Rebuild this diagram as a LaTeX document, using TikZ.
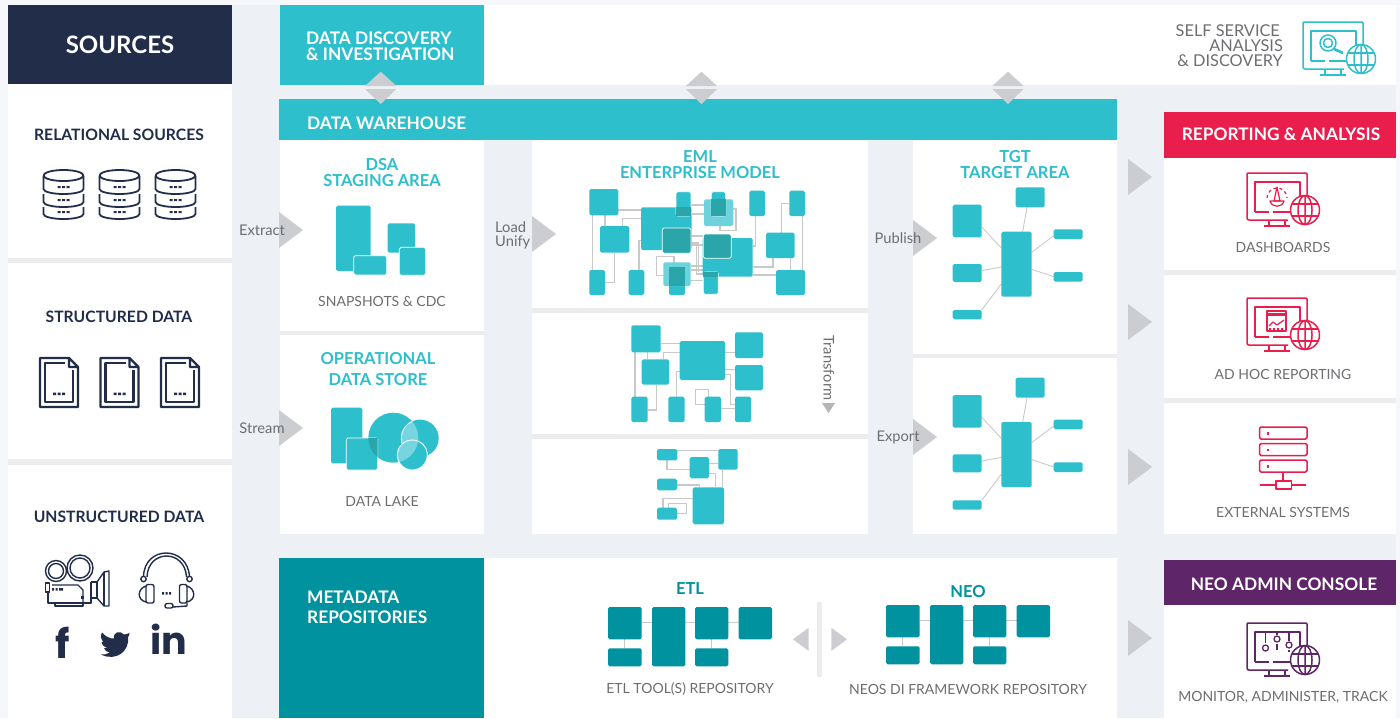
\documentclass[tikz,border=0pt]{standalone}
\usepackage{fontspec}
\setmainfont{Lato}
\newfontfamily\socialfont{Poppins}
\usetikzlibrary{positioning}
\definecolor{navy}{HTML}{222D4A}
\definecolor{aqua}{HTML}{2EBFCD}
\definecolor{aquadark}{HTML}{2AA6AB}
\definecolor{petrol}{HTML}{00929E}
\definecolor{crimson}{HTML}{E91E4D}
\definecolor{plum}{HTML}{5E2568}
\definecolor{pagebg}{HTML}{EDF0F5}
\definecolor{strip}{HTML}{F6F7FA}
\definecolor{greyarrow}{HTML}{CCCDD0}
\definecolor{greytext}{HTML}{6D6E71}
\definecolor{wirecol}{HTML}{C9C9C9}
\definecolor{gapcol}{HTML}{ECECEE}
\pgfdeclarelayer{back}
\pgfdeclarelayer{wires}
\pgfsetlayers{back,wires,main}
\tikzset{
    panel/.style={fill=white,draw=none,inner sep=0pt,outer sep=0pt,anchor=north west},
    blk/.style={fill=aqua,rounded corners=1.6pt,draw=none,inner sep=0pt,outer sep=0pt,anchor=north west},
    petblk/.style={blk,fill=petrol},
    cutblk/.style={blk,draw=white,line width=0.8pt},
    wire/.style={draw=wirecol,line width=1.1pt},
    head/.style={font=\bfseries\fontsize{15.7}{15.7}\selectfont,text=navy,inner sep=0pt,yshift=-1pt},
    title/.style={font=\bfseries\fontsize{16.5}{16.5}\selectfont,text=aqua,inner sep=0pt,yshift=-1pt},
    banner/.style={font=\bfseries\fontsize{17.3}{17.3}\selectfont,text=white,inner sep=0pt,yshift=-1pt},
    caption/.style={font=\fontsize{14}{14}\selectfont,text=greytext,inner sep=0pt,yshift=-1pt},
    steplabel/.style={font=\fontsize{14.7}{14.7}\selectfont,text=greytext,inner sep=0pt,yshift=-1pt},
    tip/.style={fill=greyarrow,draw=none},
    ico/.style={line width=1.5pt,line join=round},
}
% a monitor with a globe, from its top left corner
\newcommand{\monitoricon}[3]{
    \begin{scope}[shift={(#2,#3)},ico,draw=#1]
        \draw[rounded corners=1pt] (41,47) -- (1,47) -- (0,46) -- (0,0) -- (60,0) -- (60,30);
        \draw (8,39) -- (8,9) -- (53,9) -- (53,24);
        \draw (8,39) -- (22,39) (26,39) -- (44,39);
        \draw (22,47) -- (22,53) (38,47) -- (38,53) (17,53) -- (43,53);
        \draw[fill=white] (58,37) circle (14.5);
        \draw (58,37) ellipse (7 and 14.5) (58,22.5) -- (58,51.5);
        \draw (45,31) -- (71,31) (45,43) -- (71,43);
    \end{scope}
}
\begin{document}
\begin{tikzpicture}[x=1pt,y=-1pt]
    \useasboundingbox (0,0) rectangle (1400,718);
    \begin{pgfonlayer}{back}
    \fill[pagebg] (0,0) rectangle (1400,718);
    \fill[strip] (0,0) rectangle (8,718);
    \fill[strip] (0,0) rectangle (1400,5);
    \fill[strip] (1396,0) rectangle (1400,718);

    % left column
    \node[panel,fill=navy,minimum width=224pt,minimum height=79pt] (srchead) at (8,5) {};
    \foreach \n/\ya/\h in {srca/84/174,srcb/263/196,srcc/465/253} {
        \node[panel,minimum width=224pt,minimum height=\h pt] (\n) at (8,\ya) {};
    }
    \fill[gapcol] (8,258) rectangle (232,263);
    \fill[gapcol] (8,459) rectangle (232,465);

    % panels
    \node[panel,fill=aqua,minimum width=204pt,minimum height=80pt] (disc) at (280,5) {};
    \node[panel,minimum width=912pt,minimum height=80pt] (self) at (484,5) {};
    \node[panel,fill=aqua,minimum width=838pt,minimum height=41pt] (dwh) at (279,99) {};
    \foreach \n/\xa/\ya/\w/\h in {dsa/280/140/204/191,ods/280/335/204/199,
        emla/532/140/336/168,emlb/532/313/336/121,emlc/532/439/336/95,
        tgta/913/140/204/214,tgtb/913/358/204/176,
        repa/1164/158/232/112,repb/1164/275/232/123,repc/1164/403/232/131,
        neob/1164/605/232/113,meta/484/558/633/160} {
        \node[panel,minimum width=\w pt,minimum height=\h pt] (\n) at (\xa,\ya) {};
    }
    \fill[gapcol] (280,331) rectangle (484,335);
    \fill[gapcol] (532,308) rectangle (868,313);
    \fill[gapcol] (532,434) rectangle (868,439);
    \fill[gapcol] (913,354) rectangle (1117,358);
    \fill[gapcol] (1164,270) rectangle (1396,275);
    \fill[gapcol] (1164,398) rectangle (1396,403);
    \node[panel,fill=petrol,minimum width=205pt,minimum height=160pt] (metahead) at (279,558) {};
    \node[panel,fill=crimson,minimum width=232pt,minimum height=46pt] (rephead) at (1164,112) {};
    \node[panel,fill=plum,minimum width=232pt,minimum height=45pt] (neohead) at (1164,560) {};
    \end{pgfonlayer}

    % heads
    \node[banner,font=\bfseries\fontsize{24}{24}\selectfont] (srctxt) at (120,44) {SOURCES};
    \node[head] (relsrc) at (119,134) {RELATIONAL SOURCES};
    \node[head] (strsrc) at (119,316) {STRUCTURED DATA};
    \node[head] (unssrc) at (119,516) {UNSTRUCTURED DATA};

    % banners
    \node[banner,anchor=west] (disca) at (306,37) {DATA DISCOVERY};
    \node[banner,anchor=west] (discb) at (306,53) {\& INVESTIGATION};
    \node[banner,anchor=west] (dwhtxt) at (307,122) {DATA WAREHOUSE};
    \node[banner,anchor=west] (metaa) at (307,596) {METADATA};
    \node[banner,anchor=west] (metab) at (307,616) {REPOSITORIES};
    \node[banner] (reptxt) at (1281,133) {REPORTING \& ANALYSIS};
    \node[banner] (neotxt) at (1284,583) {NEO ADMIN CONSOLE};

    % titles
    \node[title] (dsaa) at (382,164) {DSA};
    \node[title] (dsab) at (382,180) {STAGING AREA};
    \node[title] (odsa) at (378,358) {OPERATIONAL};
    \node[title] (odsb) at (378,379) {DATA STORE};
    \node[title] (emlta) at (700,156) {EML};
    \node[title] (emltb) at (700,172) {ENTERPRISE MODEL};
    \node[title] (tgtta) at (1015,156) {TGT};
    \node[title] (tgttb) at (1015,172) {TARGET AREA};
    \node[title,text=petrol] (etlt) at (690,588) {ETL};
    \node[title,text=petrol] (neot) at (968,591) {NEO};

    % captions
    \foreach \n/\xa/\ya/\t in {capa/382/300/SNAPSHOTS \& CDC,capb/382/500/DATA LAKE,
        capc/1283/246/DASHBOARDS,capd/1283/373/AD HOC REPORTING,cape/1283/511/EXTERNAL SYSTEMS,
        capf/1283/696/{MONITOR, ADMINISTER, TRACK},capg/690/688/ETL TOOL(S) REPOSITORY,
        caph/968/688/NEOS DI FRAMEWORK REPOSITORY} {
        \node[caption] (\n) at (\xa,\ya) {\t};
    }
    \node[caption,font=\fontsize{16.3}{16.3}\selectfont,anchor=east] (sa) at (1280,30) {SELF SERVICE};
    \node[caption,font=\fontsize{16.3}{16.3}\selectfont,anchor=east] (sb) at (1283,45) {ANALYSIS};
    \node[caption,font=\fontsize{16.3}{16.3}\selectfont,anchor=east] (sc) at (1283,60) {\& DISCOVERY};

    % big grey arrows
    \foreach \xa/\ya in {279/230,279/428,532/234,913/238,913/437,1128/177,1128/322,1128/467,1128/638} {
        \fill[tip] (\xa,\ya-18) -- (\xa+24,\ya) -- (\xa,\ya+18) -- cycle;
    }
    \foreach \xa in {380.7,701.5,1008} {
        \fill[greyarrow] (\xa-15.7,86) -- (\xa,71.7) -- (\xa+15.7,86) -- cycle;
        \fill[greyarrow] (\xa-15.7,89) -- (\xa,104) -- (\xa+15.7,89) -- cycle;
    }
    \fill[tip] (793,639.3) -- (808.7,627.7) -- (808.7,651) -- cycle;
    \fill[tip] (847,639.3) -- (831.3,627.7) -- (831.3,651) -- cycle;
    \fill[gapcol] (817.3,602.3) rectangle (822,677.3);
    \fill[tip,fill=greytext!50] (822,403) -- (835,403) -- (828.5,413) -- cycle;
    \node[steplabel] (extr) at (262,229) {Extract};
    \node[steplabel] (strm) at (262,427) {Stream};
    \node[steplabel,anchor=west] (loada) at (495,226) {Load};
    \node[steplabel,anchor=west] (loadb) at (495,241) {Unify};
    \node[steplabel] (pub) at (898,237) {Publish};
    \node[steplabel] (expo) at (898,436) {Export};
    \node[steplabel,rotate=-90] (trans) at (829,367) {Transform};

    % source icons
    \foreach \xa in {63.5,119.5,175.5} {
        \begin{scope}[shift={(\xa,0)},ico,draw=navy,line width=1.8pt]
            \draw (0,175.5) ellipse (20 and 5.5);
            \draw (-20,176) -- (-20,189) arc (180:0:20 and 5) -- (20,176);
            \draw (-20,194) -- (-20,202) arc (180:0:20 and 5) -- (20,194);
            \draw (-20,207) -- (-20,214) arc (180:0:20 and 5) -- (20,207);
            \foreach \ya in {187,200,212} {
                \fill[navy] (-6,\ya-1) rectangle (-3,\ya+1) (-1.5,\ya-1) rectangle (1.5,\ya+1) (3,\ya-1) rectangle (6,\ya+1);
            }
        \end{scope}
    }
    \foreach \xa in {40,100.5,161} {
        \begin{scope}[shift={(\xa,358)},ico,draw=navy,line width=2.2pt]
            \draw (29,0) -- (0,0) -- (0,49) -- (38,49) -- (38,9) -- (29,0) -- (29,9) -- (38,9);
            \draw (25,5) -- (5,5) -- (5,44) -- (33,44) -- (33,12);
            \fill[navy] (13,34.5) rectangle (16,37) (17.5,34.5) rectangle (20.5,37) (22,34.5) rectangle (25,37);
        \end{scope}
    }
    % camera
    \begin{scope}[ico,draw=navy,line width=1.4pt]
        \draw (56,571) circle (10.5) (56,571) circle (7.5);
        \draw (80,568) circle (13) (80,568) circle (10);
        \draw (45.5,583) rectangle (49.5,592);
        \draw (48,592) -- (48,603) -- (91,603) -- (91,582);
        \draw (52,585) -- (78,585) -- (83,590) -- (83,603);
        \draw (55,603) -- (55,606) -- (83,606) -- (83,603);
        \draw (91,582) -- (97,582) -- (97,598) -- (91,598);
        \draw (97,582) -- (104,572) -- (109,571) -- (109,606) -- (104,606) -- (97,598);
        \draw[line width=2pt] (104,572) -- (104,606);
        \fill[navy] (52,588) rectangle (54,590.5) (55.5,588) rectangle (57.5,590.5) (59,588) rectangle (63,590.5);
        \fill[navy] (81,596) rectangle (84,599);
    \end{scope}
    % headset
    \begin{scope}[ico,draw=navy,line width=1.4pt]
        \draw (143.5,577) .. controls (144,545) and (188,545) .. (189.5,577);
        \draw (147,577) .. controls (148,549) and (185,549) .. (186.5,577);
        \draw[fill=white] (143.5,579) circle (2.7) (189.5,579) circle (2.7);
        \draw[rounded corners=2pt] (146,584.5) rectangle (154,603);
        \draw[rounded corners=2pt] (179.5,584.5) rectangle (187,603);
        \draw (146,586) .. controls (137,589) and (137,600) .. (146,602);
        \draw (187,586) .. controls (196,589) and (196,600) .. (187,602);
        \draw (187,603) -- (187,606) -- (173,607);
        \draw[rounded corners=2pt] (165,603.5) rectangle (173,608);
        \fill[navy] (162,592) rectangle (164,594.5) (165.5,592) rectangle (167.5,594.5) (169,592) rectangle (171,594.5);
    \end{scope}
    % social marks
    \node[inner sep=0pt,text=navy,font=\socialfont\bfseries\fontsize{40}{40}\selectfont] (fbk) at (63,643) {f};
    \node[inner sep=0pt,text=navy,font=\socialfont\bfseries\fontsize{38}{38}\selectfont] (lnk) at (168.5,639) {in};
    \fill[navy] (129.5,633) .. controls (127,634) and (125,634.5) .. (124,634.5)
        .. controls (120,630) and (113,632) .. (114,638.5)
        .. controls (110,639) and (105,636) .. (102,632.5)
        .. controls (100,636) and (101,640) .. (104,642)
        .. controls (103,642) and (102,642) .. (101.5,641.5)
        .. controls (102,645) and (104,647) .. (107,648)
        .. controls (106,648.5) and (105,648.5) .. (104,648.3)
        .. controls (105,651) and (107,652) .. (110,652.5)
        .. controls (107,654) and (104,655) .. (101,654.5)
        .. controls (116,662) and (130,651) .. (128,637)
        .. controls (129,636) and (129.5,635) .. cycle;

    % DSA icon
    \node[blk,minimum width=34.7pt,minimum height=65.3pt] (dsaone) at (336,205.7) {};
    \node[cutblk,minimum width=33pt,minimum height=19.3pt] (dsatwo) at (353.7,255.7) {};
    \node[blk,minimum width=27.3pt,minimum height=29.4pt] (dsathree) at (387.7,223.3) {};
    \node[cutblk,minimum width=26.4pt,minimum height=28pt] (dsafour) at (399.3,247.3) {};
    % ODS icon
    \node[blk,minimum width=31.3pt,minimum height=55.6pt] (odsone) at (331,407.7) {};
    \fill[aqua] (393.3,437.7) circle (25);
    \fill[aqua] (420,438.3) circle (18.7);
    \node[cutblk,minimum width=31.4pt,minimum height=32pt] (odstwo) at (346.3,438) {};
    \begin{scope}
        \clip (346.3,438) rectangle (377.7,470);
        \fill[aquadark] (393.3,437.7) circle (25);
    \end{scope}
    \begin{scope}
        \clip (393.3,437.7) circle (25);
        \fill[aqua!65!white] (420,438.3) circle (18.7);
        \draw[white,line width=0.8pt] (420,438.3) circle (18.7);
    \end{scope}
    \fill[aqua] (412.3,455) circle (15);
    \begin{scope}
        \clip (412.3,455) circle (15);
        \clip (393.3,437.7) circle (25);
        \fill[aqua!65!white] (412.3,455) circle (15);
    \end{scope}
    \draw[white,line width=0.9pt] (412.3,455) circle (15);

    % EML model
    \foreach \n/\xa/\ya/\w/\h in {ea/589.3/189/29/26.3,eb/600/226/29.3/26.7,ec/589.3/270/15.7/25,
        ed/628.7/270/15.6/25,ee/641/207.3/50.7/42.7,ei/749.3/190.7/15.7/25.3,ej/789.3/190.7/15.7/25.3,
        ek/766/232.7/28.7/25.3,el/702.7/238/50/38.7,eo/776/270/29/25,eq/669/267.3/16/27.7} {
        \node[blk,minimum width=\w pt,minimum height=\h pt] (\n) at (\xa,\ya) {};
    }
    \node[cutblk,minimum width=15pt,minimum height=24.3pt] (ef) at (676,191.7) {};
    \node[cutblk,minimum width=15pt,minimum height=22.3pt] (ep) at (703.3,272) {};
    \node[blk,fill=aqua!70!white,minimum width=29.3pt,minimum height=26.7pt] (eg) at (704,199.3) {};
    \node[blk,fill=aqua!70!white,minimum width=27.4pt,minimum height=23.7pt] (er) at (663.3,262.3) {};
    \node[cutblk,minimum width=14.4pt,minimum height=24.3pt] (eh) at (711.3,191.7) {};
    \node[cutblk,fill=aquadark,minimum width=28pt,minimum height=24.3pt] (em) at (703.3,234) {};
    \node[cutblk,fill=aquadark,minimum width=28.7pt,minimum height=25.3pt] (en) at (662.3,228) {};
    \node[blk,fill=aquadark,rounded corners=0pt,minimum width=15pt,minimum height=9.3pt] (eoa) at (676,207) {};
    \node[blk,fill=aquadark,rounded corners=0pt,minimum width=14.4pt,minimum height=17pt] (eob) at (711.3,199.3) {};
    \node[blk,fill=aquadark,rounded corners=0pt,minimum width=16pt,minimum height=18.7pt] (eoc) at (669,267.3) {};
    \node[blk,fill=aquadark,rounded corners=0pt,minimum width=15pt,minimum height=4.7pt] (eod) at (703.3,272) {};
    \begin{pgfonlayer}{wires}
        \draw[wire] (ea.east |- 0,210) -- (ee.west |- 0,210);
        \draw[wire] (605,0 |- ea.south) -- (605,0 |- eb.north);
        \draw[wire] (592.3,0 |- ea.south) -- (592.3,0 |- ec.north);
        \draw[wire] (622.7,0 |- eb.north) |- (ee.west |- 0,218.3);
        \draw[wire] (614.7,0 |- eb.south) |- (ec.east |- 0,282.3);
        \draw[wire] (639,0 |- ed.north) |- (ee.west |- 0,240.7);
        \draw[wire] (ef.east |- 0,205) -- (eh.west |- 0,205);
        \draw[wire] (ee.east |- 0,214) -- (eg.west |- 0,214);
        \draw[wire] (720,209) rectangle (736,230.7);
        \draw[wire] (755.7,0 |- ei.south) |- (el.east |- 0,246);
        \draw[wire] (781.3,0 |- ek.north) |- (ej.west |- 0,203.3);
        \draw[wire] (802.7,0 |- ej.south) -- (802.7,0 |- eo.north);
        \draw[wire] (790.3,0 |- ek.south) -- (790.3,0 |- eo.north);
        \draw[wire] (773,0 |- ek.south) |- (el.east |- 0,267);
        \draw[wire] (el.east |- 0,275) -- (eo.west |- 0,275);
        \draw[wire] (en.east |- 0,236) -- (em.west |- 0,236);
        \draw[wire] (en.east |- 0,245) -- (em.west |- 0,245);
        \draw[wire] (en.east |- 0,243) -| (698.5,0 |- ep.north);
        \draw[wire] (696.5,245) |- (ep.west |- 0,274);
        \draw[wire] (er.east |- 0,266) -- (el.west |- 0,266);
        \draw[wire] (er.east |- 0,270) -- (el.west |- 0,270);
        \draw[wire] (eq.east |- 0,280.7) -- (ep.west |- 0,280.7);
        \draw[wire] (656.7,256.7) rectangle (674,275.7);
    \end{pgfonlayer}

    % second model
    \foreach \n/\xa/\ya/\w/\h in {fa/631.3/325.3/29.4/27,fb/641.7/359.3/27.3/25.4,fc/679.7/341/45.3/39,
        fd/735/332.3/28/25.7,fe/735/365/28/25.3,ff/631.3/396.7/16.4/25.3,fg/668.3/396.7/16.4/25.3,
        fh/704.7/396.7/16.3/25.3,fi/735/396.7/16/25.3} {
        \node[blk,minimum width=\w pt,minimum height=\h pt] (\n) at (\xa,\ya) {};
    }
    \begin{pgfonlayer}{wires}
        \draw[wire] (fa.east |- 0,343.7) -- (fc.west |- 0,343.7);
        \draw[wire] (647.3,0 |- fa.south) -- (647.3,0 |- fb.north);
        \draw[wire] (635,0 |- fa.south) -- (635,0 |- ff.north);
        \draw[wire] (663.3,0 |- fb.north) |- (fc.west |- 0,352.3);
        \draw[wire] (656.7,0 |- fb.south) |- (ff.east |- 0,410);
        \draw[wire] (676.7,0 |- fg.north) |- (fc.west |- 0,371.3);
        \draw[wire] (fc.east |- 0,352.7) -- (fd.west |- 0,352.7);
        \draw[wire] (fc.east |- 0,369.3) -- (fe.west |- 0,369.3);
        \draw[wire] (fc.east |- 0,374.3) -| (730.3,404.3) -- (fi.west |- 0,404.3);
        \draw[wire] (fh.east |- 0,408.7) -- (fi.west |- 0,408.7);
        \draw[wire] (708.7,0 |- fh.north) |- (695.3,389.3) |- (fh.west |- 0,404.3);
    \end{pgfonlayer}

    % third model
    \foreach \n/\xa/\ya/\w/\h in {ga/657/449/20.3/11.3,gb/689.7/457/19.3/21.3,gc/718.3/449/19.4/20.7,
        gd/657/478.7/20/11.6,ge/657/507.7/20/12,gf/692.7/487.3/31.3/37} {
        \node[blk,minimum width=\w pt,minimum height=\h pt] (\n) at (\xa,\ya) {};
    }
    \begin{pgfonlayer}{wires}
        \draw[wire] (ga.east |- 0,450.7) -- (gc.west |- 0,450.7);
        \draw[wire] (667,0 |- ga.south) |- (gb.west |- 0,469.3);
        \draw[wire] (gb.east |- 0,463.3) -- (gc.west |- 0,463.3);
        \draw[wire] (722.3,0 |- gc.south) -- (722.3,0 |- gf.north);
        \draw[wire] (gb.east |- 0,473.3) -| (715.3,0 |- gf.north);
        \draw[wire] (gd.east |- 0,485) -| (699.7,0 |- gf.north);
        \draw[wire] (663,0 |- ge.north) |- (gf.west |- 0,498.3);
        \draw[wire] (668.7,0 |- ge.north) |- (686.7,503.3) |- (ge.east |- 0,513.7);
    \end{pgfonlayer}

    % target models
    \foreach \p/\dy in {ta/0,tb/190.3} {
        \begin{scope}[shift={(0,\dy)}]
            \foreach \n/\xa/\ya/\w/\h in {c/1001.3/231.7/30.4/65,u/1015.7/187.3/29/20,a/952.7/204.7/29/32.6,
                b/952.7/264/29/18,d/952.7/310/29/9.3,x/1053.7/229.3/29/9.7,y/1053.7/272/29/9.7} {
                \node[blk,minimum width=\w pt,minimum height=\h pt] (\p\n) at (\xa,\ya) {};
            }
            \begin{pgfonlayer}{wires}
                \draw[wire,line width=0.9pt] (1027,0 |- \p u.south) -- (1022.7,0 |- \p c.north);
                \draw[wire,line width=0.9pt] (\p a.east |- 0,227) -- (\p c.west |- 0,248);
                \draw[wire,line width=0.9pt] (\p b.east |- 0,270.7) -- (\p c.west |- 0,267);
                \draw[wire,line width=0.9pt] (\p d.east |- 0,310) -- (\p c.west |- 0,284);
                \draw[wire,line width=0.9pt] (\p x.west |- 0,235.7) -- (\p c.east |- 0,252.3);
                \draw[wire,line width=0.9pt] (\p y.west |- 0,276.7) -- (\p c.east |- 0,269.3);
            \end{pgfonlayer}
        \end{scope}
    }

    % repository models
    \foreach \p/\dx/\dy in {ra/0/0,rb/278/-2} {
        \begin{scope}[shift={(\dx,\dy)}]
            \foreach \n/\xa/\ya/\w/\h in {a/608/607/33.7/32.3,b/652/607/33.3/59.3,c/695/607/33.3/32.3,
                d/738.7/607/33.3/32.3,e/608/648.3/33.7/18,f/695/648.3/33.3/18} {
                \node[petblk,minimum width=\w pt,minimum height=\h pt] (\p\n) at (\xa,\ya) {};
            }
            \begin{pgfonlayer}{wires}
                \draw[wire] (\p a.east |- 0,622.7) -- (\p d.west |- 0,622.7);
                \draw[wire] (\p a) -- (\p e);
                \draw[wire] (\p c) -- (\p f);
            \end{pgfonlayer}
        \end{scope}
    }

    % monitors and other icons
    \monitoricon{aqua}{1303}{22}
    \monitoricon{crimson}{1247}{173}
    \monitoricon{crimson}{1247}{298}
    \monitoricon{plum}{1247}{623}
    % lens
    \begin{scope}[ico,draw=aqua]
        \draw (1328,43) circle (8) (1328,43) circle (4.5);
        \draw[line width=2.6pt] (1334,49) -- (1343,53);
    \end{scope}
    % gauge
    \begin{scope}[ico,draw=crimson,line width=1.2pt]
        \draw[dashed] (1267,198) arc (180:360:10);
        \draw (1277,187) -- (1274,201) -- (1280,201) -- cycle;
        \draw (1270,201) .. controls (1272,208) and (1282,208) .. (1284,201) -- cycle;
    \end{scope}
    % report
    \begin{scope}[ico,draw=crimson,line width=1.2pt]
        \draw (1267,311) rectangle (1286,331);
        \fill[crimson] (1268,313) rectangle (1285,316);
        \draw (1269,326) -- (1273,322) -- (1277,325) -- (1284,320);
        \fill[crimson] (1269,328) rectangle (1271,330) (1273,328) rectangle (1275,330) (1277,328) rectangle (1279,330) (1281,328) rectangle (1283,330);
    \end{scope}
    % sliders
    \begin{scope}[ico,draw=plum,line width=1.3pt]
        \draw (1265.5,632) -- (1265.5,643) (1277,632) -- (1277,635) (1277,644) -- (1277,650) (1289,632) -- (1289,641) (1289,650) -- (1289,652);
        \draw (1265.5,648) circle (3) (1277,639) circle (3) (1289,645) circle (3);
    \end{scope}
    % servers
    \begin{scope}[ico,draw=crimson,line width=1.5pt]
        \foreach \ya in {427,443.5,460} {
            \draw[rounded corners=1.5pt] (1259.5,\ya) rectangle (1307,\ya+12);
            \fill[crimson] (1266.5,\ya+5) rectangle (1269,\ya+7.5);
        }
        \draw (1283,472) -- (1283,481);
        \draw (1260,485) -- (1276,485) (1291.5,485) -- (1306,485);
        \draw (1276,481) rectangle (1291.5,489);
    \end{scope}
\end{tikzpicture}
\end{document}
